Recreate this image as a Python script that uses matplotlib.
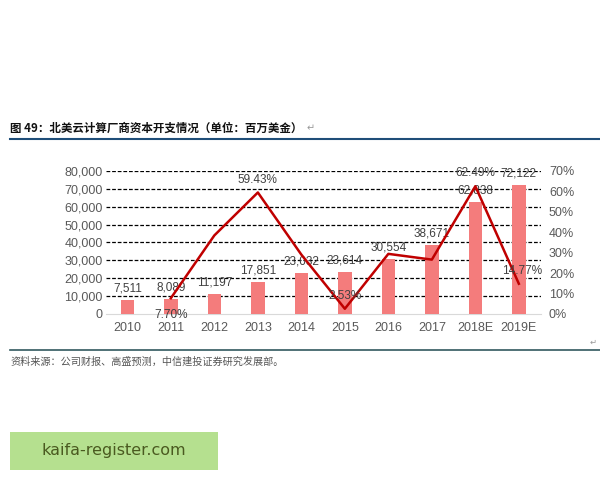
import matplotlib
matplotlib.use("Agg")
import matplotlib.pyplot as plt
from matplotlib.lines import Line2D
from matplotlib.patches import Rectangle
from matplotlib.ticker import FuncFormatter

years = ["2010", "2011", "2012", "2013", "2014", "2015", "2016", "2017", "2018E", "2019E"]
capex = [7511, 8089, 11197, 17851, 23032, 23614, 30554, 38671, 62838, 72122]
growth = [None, 7.70, 38.42, 59.43, 29.02, 2.53, 29.39, 26.57, 62.49, 14.77]
growth_labels = {1: "7.70%", 3: "59.43%", 5: "2.53%", 8: "62.49%", 9: "14.77%"}

cjk = ["Noto Sans CJK SC", "DejaVu Sans"]
num_font = "Liberation Sans"
tick_color = "#595959"

fig = plt.figure(figsize=(6, 4.8), dpi=100)
ax = fig.add_axes([0.176, 0.346, 0.725, 0.298])
x = list(range(len(years)))

ax.bar(x, capex, width=0.31, color="#F47C7C", zorder=3)
ax.set_xlim(-0.5, len(years) - 0.5)
ax.set_ylim(0, 80000)
ax.set_yticks(range(0, 80001, 10000))
ax.yaxis.set_major_formatter(FuncFormatter(lambda v, p: f"{int(v):,}"))
ax.set_xticks(x)
ax.set_xticklabels(years)
for v in range(10000, 80001, 10000):
    ax.axhline(v, color="black", linestyle=(0, (3, 1.5)), linewidth=0.9, zorder=1)
for s in ["top", "right", "left"]:
    ax.spines[s].set_visible(False)
ax.spines["bottom"].set_color("#d9d9d9")
ax.tick_params(axis="y", length=0, colors=tick_color, pad=2)
ax.tick_params(axis="x", length=0, colors=tick_color, pad=6)
for lab in ax.get_xticklabels() + ax.get_yticklabels():
    lab.set_fontfamily(num_font)
    lab.set_fontsize(9)

for i, v in enumerate(capex):
    ax.annotate(f"{v:,}", (i, v), xytext=(0, 4), textcoords="offset points",
                ha="center", va="bottom", fontsize=8.5, color="#404040",
                family=num_font, zorder=5)

ax2 = ax.twinx()
ax2.set_ylim(0, 70)
ax2.set_yticks(range(0, 71, 10))
ax2.yaxis.set_major_formatter(FuncFormatter(lambda v, p: f"{int(v)}%"))
for s in ["top", "right", "left", "bottom"]:
    ax2.spines[s].set_visible(False)
ax2.tick_params(length=0, colors=tick_color, pad=6)
for lab in ax2.get_yticklabels():
    lab.set_fontfamily(num_font)
    lab.set_fontsize(9)

gx = [i for i, g in enumerate(growth) if g is not None]
gy = [g for g in growth if g is not None]
ax2.plot(gx, gy, color="#C00000", linewidth=1.8, zorder=4)
for i, txt in growth_labels.items():
    dy = -12 if i == 1 else 5
    ax2.annotate(txt, (i, growth[i]), xytext=(2 if i == 9 else 0, dy), textcoords="offset points",
                 ha="center", va="bottom" if dy > 0 else "center", fontsize=8.5,
                 color="#404040", family=num_font, zorder=6)

# title, rules and source note
title = fig.text(0.017, 1 - 128 / 480, "图 49：北美云计算厂商资本开支情况（单位：百万美金）", family=cjk,
                 fontsize=8.3, fontweight="bold", color="#111111", va="center")
fig.canvas.draw()
bb = title.get_window_extent()
fig.text(bb.x1 / 600 + 0.006, 1 - 128 / 480, "↵", family=cjk, fontsize=7, color="#999999", va="center")
fig.add_artist(Line2D([0.017, 1.0], [1 - 139 / 480] * 2, color="#1F4E79", linewidth=1.5))
fig.add_artist(Line2D([0.017, 1.0], [1 - 350 / 480] * 2, color="#31595F", linewidth=1.2))
fig.text(0.017, 1 - 362 / 480, "资料来源：公司财报、高盛预测，中信建投证券研究发展部。", family=cjk,
         fontsize=7.3, style="italic", color="#555555", va="center")
fig.text(0.995, 1 - 342 / 480, "↵", family=cjk, fontsize=6, color="#999999", va="center", ha="right")

# watermark
fig.add_artist(Rectangle((10 / 600, 1 - 470 / 480), 208 / 600, 38 / 480,
                         transform=fig.transFigure, facecolor="#B5E08F", edgecolor="none"))
fig.text(114 / 600, 1 - 451 / 480, "kaifa-register.com", fontsize=11.5, color="#4A5A20",
         ha="center", va="center", family="DejaVu Sans")

fig.savefig("out.png", dpi=100)
